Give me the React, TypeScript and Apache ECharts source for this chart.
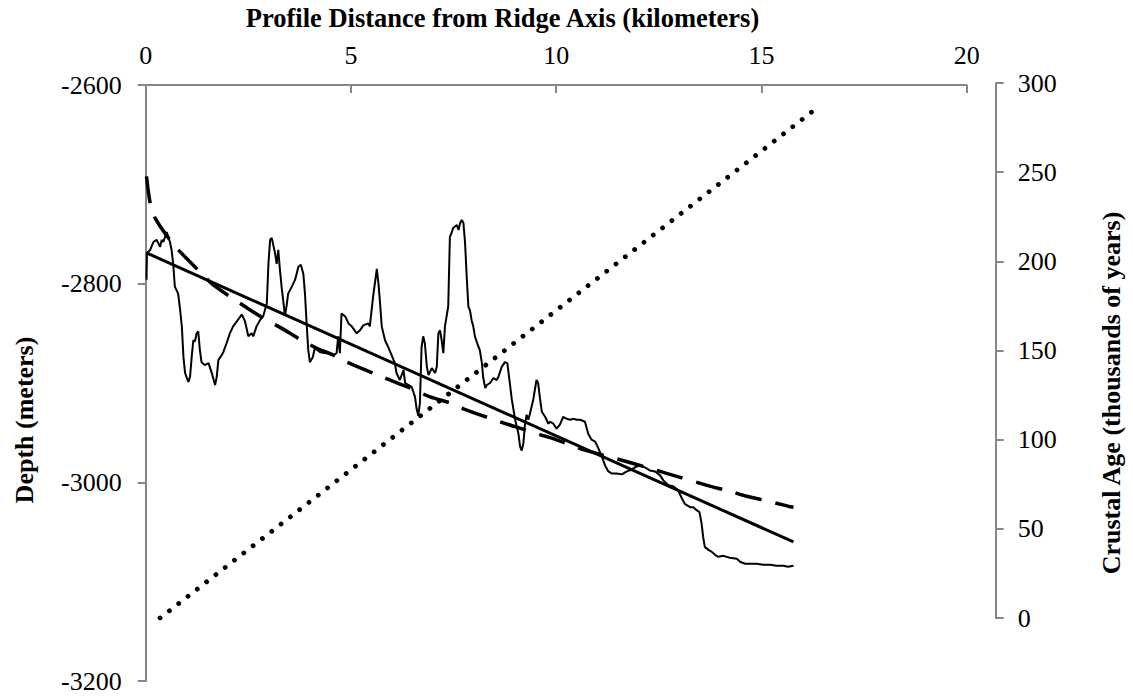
import React, { useEffect, useRef } from "react";
import * as echarts from "echarts";

// Axis ranges (tick labels)
const distanceTicks = [0, 5, 10, 15, 20];
const depthTicks = [-3200, -3000, -2800, -2600];
const ageTicks = [0, 50, 100, 150, 200, 250, 300];

// Measured bathymetric profile: [distance km, depth m]
const depthProfile: [number, number][] = [
  [0.02, -2796], [0.03, -2769], [0.11, -2766], [0.19, -2758], [0.27, -2756], [0.35, -2763],
  [0.39, -2756], [0.43, -2758], [0.51, -2748], [0.55, -2753], [0.59, -2758], [0.63, -2766],
  [0.67, -2780], [0.71, -2803], [0.79, -2810], [0.84, -2827], [0.88, -2843], [0.92, -2874],
  [0.96, -2890], [1.04, -2899], [1.08, -2894], [1.12, -2874], [1.16, -2857], [1.2, -2858],
  [1.24, -2850], [1.28, -2848], [1.32, -2867], [1.36, -2879], [1.44, -2882], [1.53, -2880],
  [1.61, -2890], [1.69, -2902], [1.73, -2894], [1.77, -2877], [1.85, -2872], [1.89, -2869],
  [1.97, -2860], [2.05, -2850], [2.13, -2843], [2.22, -2838], [2.34, -2831], [2.42, -2838],
  [2.5, -2853], [2.58, -2850], [2.62, -2853], [2.7, -2843], [2.78, -2837], [2.86, -2833],
  [2.95, -2820], [2.99, -2780], [3.03, -2756], [3.07, -2754], [3.15, -2769], [3.19, -2780],
  [3.23, -2766], [3.27, -2786], [3.31, -2803], [3.35, -2817], [3.39, -2832], [3.43, -2823],
  [3.47, -2810], [3.56, -2803], [3.64, -2796], [3.72, -2783], [3.78, -2781], [3.84, -2790],
  [3.88, -2810], [3.92, -2840], [3.96, -2867], [4.0, -2879], [4.07, -2874], [4.12, -2865],
  [4.25, -2869], [4.41, -2870], [4.57, -2872], [4.65, -2870], [4.69, -2853], [4.73, -2870],
  [4.77, -2830], [4.86, -2833], [4.94, -2840], [5.02, -2843], [5.14, -2850], [5.22, -2847],
  [5.3, -2842], [5.42, -2840], [5.46, -2843], [5.54, -2813], [5.63, -2785], [5.67, -2800],
  [5.71, -2820], [5.75, -2843], [5.83, -2857], [5.91, -2864], [5.99, -2872], [6.07, -2880],
  [6.11, -2890], [6.19, -2897], [6.28, -2887], [6.32, -2900], [6.48, -2904], [6.56, -2914],
  [6.6, -2926], [6.64, -2933], [6.68, -2920], [6.72, -2864], [6.76, -2853], [6.8, -2860],
  [6.85, -2884], [6.89, -2892], [6.97, -2885], [7.05, -2890], [7.09, -2884], [7.13, -2850],
  [7.17, -2847], [7.21, -2857], [7.25, -2870], [7.29, -2843], [7.33, -2833], [7.37, -2823],
  [7.41, -2753], [7.45, -2749], [7.49, -2744], [7.58, -2741], [7.62, -2746], [7.66, -2739],
  [7.7, -2736], [7.74, -2739], [7.78, -2759], [7.82, -2793], [7.86, -2823], [7.9, -2827],
  [7.94, -2837], [7.98, -2843], [8.02, -2853], [8.1, -2863], [8.14, -2867], [8.19, -2880],
  [8.22, -2894], [8.27, -2905], [8.31, -2902], [8.39, -2900], [8.47, -2895], [8.55, -2897],
  [8.59, -2894], [8.63, -2889], [8.67, -2884], [8.75, -2879], [8.81, -2880], [8.87, -2900],
  [8.92, -2917], [8.96, -2927], [9.0, -2937], [9.08, -2951], [9.12, -2964], [9.16, -2968],
  [9.2, -2961], [9.24, -2941], [9.28, -2932], [9.32, -2937], [9.36, -2931], [9.44, -2917],
  [9.52, -2897], [9.56, -2900], [9.61, -2917], [9.65, -2929], [9.73, -2934], [9.81, -2941],
  [9.85, -2939], [9.93, -2941], [10.01, -2946], [10.09, -2942], [10.17, -2934], [10.26, -2936],
  [10.34, -2937], [10.42, -2936], [10.5, -2937], [10.58, -2937], [10.7, -2939], [10.78, -2951],
  [10.86, -2957], [10.95, -2959], [11.03, -2966], [11.11, -2974], [11.19, -2983], [11.27, -2989],
  [11.35, -2991], [11.47, -2991], [11.6, -2992], [11.72, -2989], [11.8, -2988], [11.88, -2986],
  [11.96, -2984], [12.04, -2983], [12.16, -2985], [12.28, -2988], [12.41, -2989], [12.53, -2993],
  [12.61, -2998], [12.73, -3003], [12.85, -3004], [12.97, -3008], [13.06, -3016], [13.14, -3022],
  [13.26, -3025], [13.34, -3025], [13.42, -3028], [13.49, -3030], [13.54, -3041], [13.58, -3055],
  [13.62, -3065], [13.71, -3068], [13.79, -3070], [13.87, -3073], [13.95, -3075], [14.07, -3074],
  [14.23, -3076], [14.4, -3077], [14.48, -3080], [14.6, -3082], [14.72, -3082], [14.88, -3082],
  [15.04, -3083], [15.21, -3083], [15.37, -3084], [15.53, -3084], [15.65, -3085], [15.78, -3084],
];

// Straight-line fit to the profile
const linearFit: [number, number][] = [
  [0.02, -2769], [15.78, -3060],
];

// Curved (age-dependent) subsidence fit
const subsidenceFit: [number, number][] = [
  [0.02, -2692], [0.11, -2719], [0.23, -2734], [0.59, -2756], [0.84, -2768], [1.32, -2788],
  [1.61, -2800], [2.05, -2813], [2.38, -2822], [2.95, -2837], [3.23, -2843], [3.84, -2858],
  [4.17, -2865], [4.57, -2872], [4.9, -2879], [5.54, -2890], [5.83, -2895], [6.44, -2905],
  [6.93, -2914], [7.41, -2920], [7.74, -2926], [8.63, -2939], [9.0, -2944], [9.6, -2952],
  [9.93, -2956], [10.58, -2966], [11.88, -2981], [12.69, -2991], [13.02, -2995], [13.67, -3003],
  [14.23, -3009], [14.64, -3014], [14.96, -3017], [15.65, -3024], [15.78, -3025],
];

// Crustal age along the profile: [distance km, age kyr]
const crustalAge: [number, number][] = [
  [0.35, 0], [16.24, 284],
];

const FONT = '"Liberation Serif", "Times New Roman", serif';
const AXIS_GREY = "#868686";

const axisLine = { show: true, onZero: false, lineStyle: { color: AXIS_GREY, width: 2 } };
const tickLabel = (margin: number) => ({
  fontSize: 26,
  fontFamily: FONT,
  color: "#000",
  margin,
  formatter: (v: number) => String(v),
});

export default function App() {
  const ref = useRef<HTMLDivElement>(null);

  useEffect(() => {
    if (!ref.current) return;
    const chart = echarts.init(ref.current, null, { renderer: "svg" });

    const option = {
      animation: false,
      backgroundColor: "#fff",
      grid: [
        { left: 145.7, top: 85, width: 821, height: 596 },
        { left: 145.7, top: 83, width: 821, height: 535 },
      ],
      xAxis: [
        {
          type: "value",
          gridIndex: 0,
          position: "top",
          min: distanceTicks[0],
          max: distanceTicks[distanceTicks.length - 1],
          interval: distanceTicks[1] - distanceTicks[0],
          axisLine,
          axisTick: { show: true, inside: true, length: 8, lineStyle: { color: AXIS_GREY, width: 2 } },
          axisLabel: tickLabel(17),
          splitLine: { show: false },
        },
        {
          type: "value",
          gridIndex: 1,
          min: distanceTicks[0],
          max: distanceTicks[distanceTicks.length - 1],
          show: false,
        },
      ],
      yAxis: [
        {
          type: "value",
          gridIndex: 0,
          position: "left",
          min: depthTicks[0],
          max: depthTicks[depthTicks.length - 1],
          interval: depthTicks[1] - depthTicks[0],
          axisLine,
          axisTick: { show: true, inside: false, length: 8, lineStyle: { color: AXIS_GREY, width: 2 } },
          axisLabel: tickLabel(24),
          splitLine: { show: false },
        },
        {
          type: "value",
          gridIndex: 1,
          position: "right",
          offset: 29,
          min: ageTicks[0],
          max: ageTicks[ageTicks.length - 1],
          interval: ageTicks[1] - ageTicks[0],
          axisLine,
          axisTick: { show: true, inside: false, length: 8, lineStyle: { color: AXIS_GREY, width: 2 } },
          axisLabel: tickLabel(22),
          splitLine: { show: false },
        },
      ],
      series: [
        {
          name: "Depth profile",
          type: "line",
          xAxisIndex: 0,
          yAxisIndex: 0,
          data: depthProfile,
          symbol: "none",
          lineStyle: { color: "#000", width: 2 },
        },
        {
          name: "Linear fit",
          type: "line",
          xAxisIndex: 0,
          yAxisIndex: 0,
          data: linearFit,
          symbol: "none",
          lineStyle: { color: "#000", width: 3 },
        },
        {
          name: "Subsidence fit",
          type: "line",
          xAxisIndex: 0,
          yAxisIndex: 0,
          data: subsidenceFit,
          symbol: "none",
          smooth: 0.3,
          lineStyle: { color: "#000", width: 3.5, type: [27, 14] },
        },
        {
          name: "Crustal age",
          type: "line",
          xAxisIndex: 1,
          yAxisIndex: 1,
          data: crustalAge,
          symbol: "none",
          lineStyle: { color: "#000", width: 4.8, type: [0.001, 11.78], cap: "round" },
        },
      ],
      graphic: [
        {
          type: "text",
          x: 502.5,
          y: 18,
          style: {
            text: "Profile Distance from Ridge Axis (kilometers)",
            font: `bold 26.5px ${FONT}`,
            fill: "#000",
            align: "center",
            verticalAlign: "middle",
          },
        },
        {
          type: "text",
          x: 24,
          y: 420,
          rotation: Math.PI / 2,
          style: {
            text: "Depth (meters)",
            font: `bold 26px ${FONT}`,
            fill: "#000",
            align: "center",
            verticalAlign: "middle",
          },
        },
        {
          type: "text",
          x: 1111,
          y: 393,
          rotation: Math.PI / 2,
          style: {
            text: "Crustal Age (thousands of years)",
            font: `bold 26px ${FONT}`,
            fill: "#000",
            align: "center",
            verticalAlign: "middle",
          },
        },
      ],
    };

    chart.setOption(option as any);
    return () => chart.dispose();
  }, []);

  return (
    <div
      ref={ref}
      style={{ position: "absolute", left: 0, top: 0, width: 1133, height: 698 }}
    />
  );
}
